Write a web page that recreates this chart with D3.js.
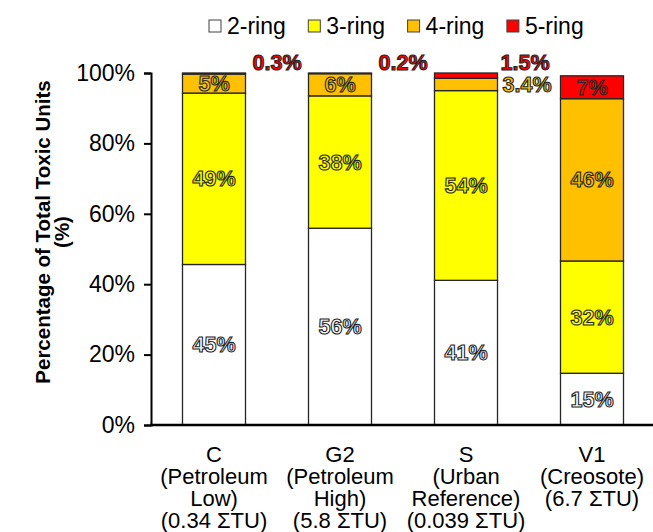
<!DOCTYPE html>
<html>
<head>
<meta charset="utf-8">
<script src="https://cdn.jsdelivr.net/npm/d3@7"></script>
<style>
  body { margin: 0; background: #fff; }
  text { font-family: Arial, "Liberation Sans", sans-serif; }
</style>
</head>
<body>
<div id="chart"></div>
<script>
// categories and their multi-line labels
const sites = ['C', 'G2', 'S', 'V1']
const siteLabels = [
    ['C', '(Petroleum', 'Low)', '(0.34 \u03A3TU)'],
    ['G2', '(Petroleum', 'High)', '(5.8 \u03A3TU)'],
    ['S', '(Urban', 'Reference)', '(0.039 \u03A3TU)'],
    ['V1', '(Creosote)', '(6.7 \u03A3TU)']
]
const rings = ['2-ring', '3-ring', '4-ring', '5-ring']
const ringColors = ['#ffffff', '#ffff00', '#ffc000', '#ff0000']

// percentage of total toxic units per ring class (one array per series)
const ring2 = [45.6, 55.9, 41.1, 14.7]
const ring3 = [48.7, 37.6, 53.9, 31.9]
const ring4 = [5.4, 6.3, 3.5, 46.1]
const ring5 = [0.3, 0.2, 1.5, 6.5]

// printed data labels
const ring2Text = ['45%', '56%', '41%', '15%']
const ring3Text = ['49%', '38%', '54%', '32%']
const ring4Text = ['5%', '6%', '3.4%', '46%']
const ring5Text = ['0.3%', '0.2%', '1.5%', '7%']

const yTicks = [0, 20, 40, 60, 80, 100]

const width = 653, height = 532
const svg = d3.select('#chart').append('svg')
    .attr('width', width)
    .attr('height', height)

const x = d3.scaleBand().domain(sites).range([151, 655])
    .paddingInner(0.5).paddingOuter(0.25)
const y = d3.scaleLinear().domain([0, 100]).range([425, 73])

const series = [ring2, ring3, ring4, ring5]
const texts = [ring2Text, ring3Text, ring4Text, ring5Text]
const rows = sites.map((s, i) => {
    const r = { site: s }
    rings.forEach((k, j) => { r[k] = series[j][i] })
    return r
})
const stacked = d3.stack().keys(rings)(rows)

// bars
const layers = svg.append('g').selectAll('g')
    .data(stacked)
    .join('g')
    .attr('fill', (d, i) => ringColors[i])

layers.selectAll('rect')
    .data(d => d)
    .join('rect')
    .attr('x', d => x(d.data.site))
    .attr('y', d => y(d[1]))
    .attr('width', x.bandwidth())
    .attr('height', d => y(d[0]) - y(d[1]))
    .attr('stroke', '#262626')
    .attr('stroke-width', 1.3)

// y axis
const yAxis = d3.axisLeft(y).tickValues(yTicks).tickFormat(d => d + '%')
    .tickSize(7).tickPadding(9)
const yg = svg.append('g').attr('transform', 'translate(151,0)').call(yAxis)
yg.select('.domain').attr('stroke', '#000').attr('stroke-width', 2)
yg.selectAll('.tick line').attr('stroke', '#000').attr('stroke-width', 2)
yg.selectAll('.tick text').attr('font-size', 23).attr('fill', '#000')
    .attr('font-family', 'Arial, "Liberation Sans", sans-serif')

// x axis line
svg.append('line')
    .attr('x1', 150).attr('x2', width)
    .attr('y1', y(0)).attr('y2', y(0))
    .attr('stroke', '#000').attr('stroke-width', 2.5)

// category labels
svg.append('g').selectAll('text')
    .data(sites)
    .join('text')
    .attr('text-anchor', 'middle')
    .attr('font-size', 22)
    .attr('fill', '#000')
    .attr('transform', d => `translate(${x(d) + x.bandwidth() / 2},462)`)
    .selectAll('tspan')
    .data((d, i) => siteLabels[i])
    .join('tspan')
    .attr('x', 0)
    .attr('y', (d, i) => i * 22)
    .text(d => d)

// data labels
const labels = svg.append('g')
    .attr('font-size', 21.5)
    .attr('font-weight', 'bold')
    .attr('stroke', '#262626')
    .attr('stroke-width', 1.1)

stacked.forEach((layer, j) => {
    layer.forEach((d, i) => {
        const v = d[1] - d[0]
        const t = labels.append('text')
            .attr('fill', ringColors[j])
            .attr('dy', '0.35em')
            .text(texts[j][i])
        if (v >= 4) {
            t.attr('text-anchor', 'middle')
                .attr('x', x(d.data.site) + x.bandwidth() / 2)
                .attr('y', (y(d[0]) + y(d[1])) / 2)
        } else {
            const right = x(d.data.site) + x.bandwidth()
            if (j === 3) {
                t.attr('x', right + (i === 2 ? 3 : 7)).attr('y', y(d[1]) - 11)
            } else {
                t.attr('x', right + 5).attr('y', (y(d[0]) + y(d[1])) / 2)
            }
        }
    })
})

// legend
const legend = svg.append('g').selectAll('g')
    .data(rings)
    .join('g')
    .attr('transform', (d, i) => `translate(${209 + i * 99.3},20)`)
legend.append('rect')
    .attr('width', 12).attr('height', 12)
    .attr('fill', (d, i) => ringColors[i])
    .attr('stroke', '#404040').attr('stroke-width', 1)
legend.append('text')
    .attr('x', 18).attr('y', 6).attr('dy', '0.35em')
    .attr('font-size', 23)
    .attr('fill', '#000')
    .text(d => d)

// y title
const title = svg.append('text')
    .attr('transform', 'translate(0,232) rotate(-90)')
    .attr('text-anchor', 'middle')
    .attr('font-size', 20.5)
    .attr('font-weight', 'bold')
    .attr('fill', '#000')
title.append('tspan').attr('x', 0).attr('y', 50).text('Percentage of Total Toxic Units')
title.append('tspan').attr('x', 0).attr('y', 69).text('(%)')
</script>
</body>
</html>
